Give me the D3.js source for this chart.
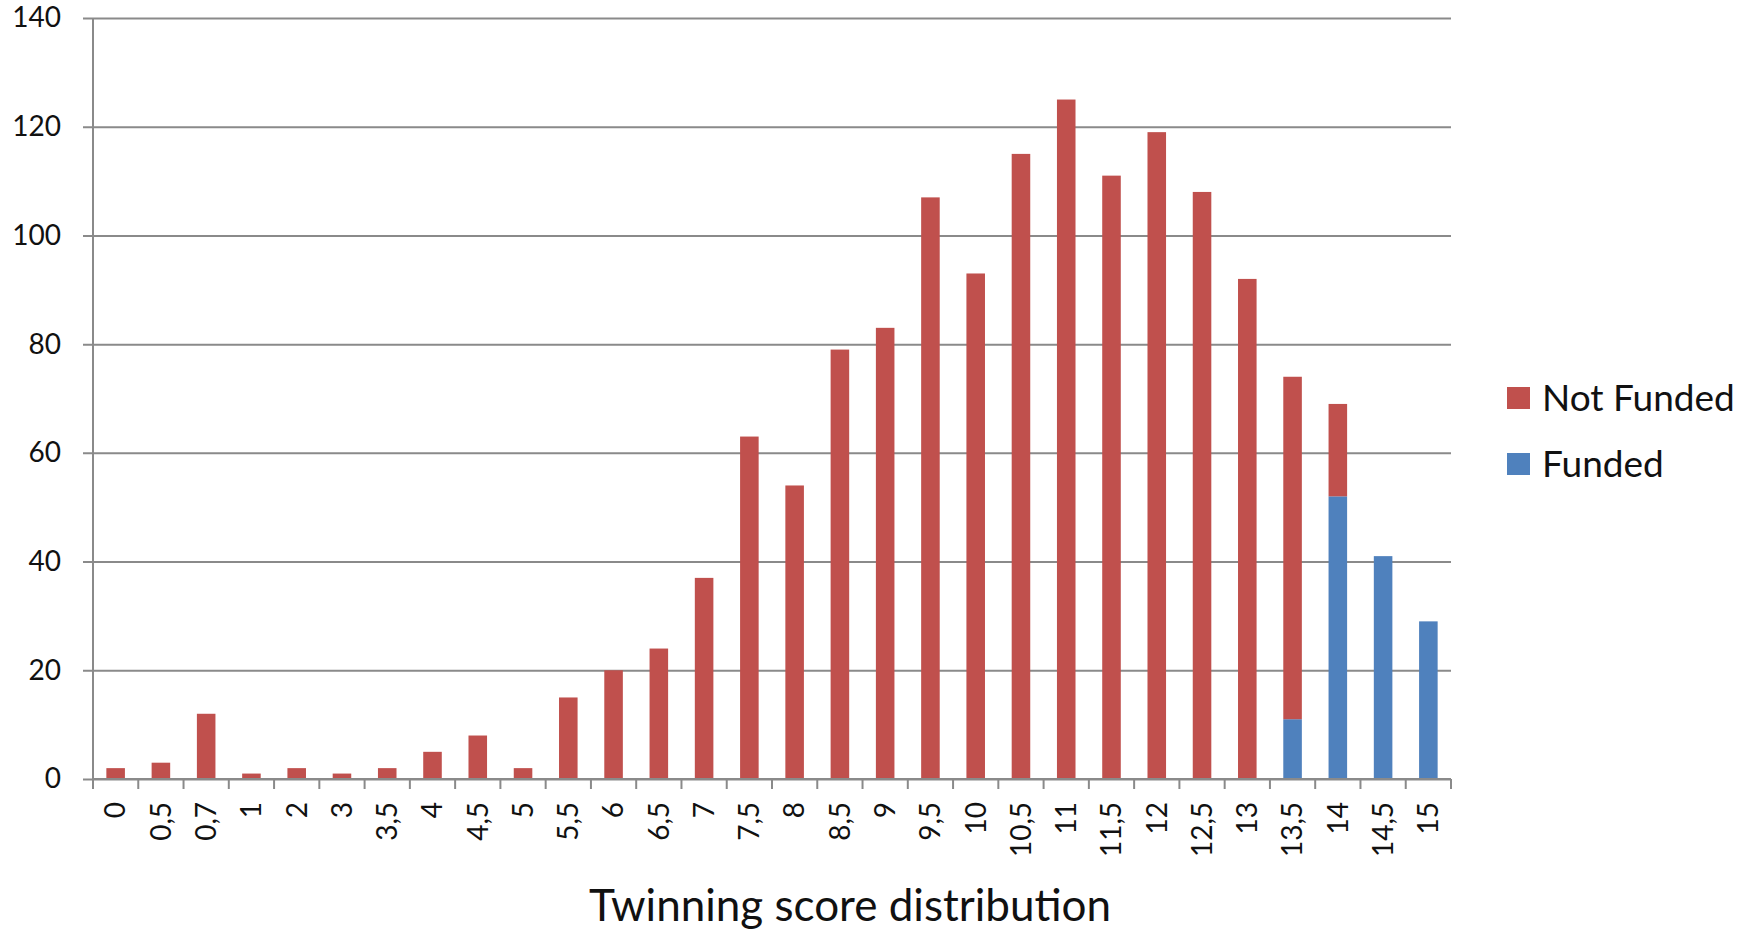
<!DOCTYPE html>
<html>
<head>
<meta charset="utf-8">
<script src="https://cdn.jsdelivr.net/npm/d3@7"></script>
<style>
  body { margin: 0; background: #fff; }
  text { font-family: Lato, "Open Sans", sans-serif; fill: #111; }
</style>
</head>
<body>
<script>
/*---------------------------
 DATA
---------------------------*/
var categories = ["0", "0,5", "0,7", "1", "2", "3", "3,5", "4", "4,5", "5",
                  "5,5", "6", "6,5", "7", "7,5", "8", "8,5", "9", "9,5", "10",
                  "10,5", "11", "11,5", "12", "12,5", "13", "13,5", "14", "14,5", "15"];

var funded    = [0, 0, 0, 0, 0, 0, 0, 0, 0, 0,
                 0, 0, 0, 0, 0, 0, 0, 0, 0, 0,
                 0, 0, 0, 0, 0, 0, 11, 52, 41, 29];

var notFunded = [2, 3, 12, 1, 2, 1, 2, 5, 8, 2,
                 15, 20, 24, 37, 63, 54, 79, 83, 107, 93,
                 115, 125, 111, 119, 108, 92, 63, 17, 0, 0];

var yTicks = [0, 20, 40, 60, 80, 100, 120, 140];

var seriesNames  = ["Funded", "Not Funded"];   // stacking order, bottom first
var seriesColors = { "Funded": "#4F81BD", "Not Funded": "#C0504D" };

/*---------------------------
 SVG + SCALES
---------------------------*/
var width = 1754, height = 931;
// note: "top" is taken by window.top, so plot edges get their own names
var plotLeft = 93, plotRight = 1451, plotTop = 18, plotBottom = 779;

var svg = d3.select("body")
            .append("svg")
            .attr("width", width)
            .attr("height", height);

var x = d3.scaleBand()
          .domain(categories)
          .range([plotLeft, plotRight])
          .paddingInner(0.59)
          .paddingOuter(0.295);

var y = d3.scaleLinear()
          .domain([0, 140])
          .range([plotBottom, plotTop]);

// rows for d3.stack
var rows = categories.map(function(c, i) {
  return { cat: c, "Funded": funded[i], "Not Funded": notFunded[i] };
});

var stacked = d3.stack().keys(seriesNames)(rows);

/*---------------------------
 GRIDLINES + Y AXIS
---------------------------*/
var yAxis = svg.append("g")
               .attr("transform", "translate(" + plotLeft + ",0)")
               .call(d3.axisLeft(y)
                       .tickValues(yTicks)
                       .tickSize(-(plotRight - plotLeft))
                       .tickPadding(32));

yAxis.select(".domain").remove();
yAxis.selectAll(".tick line")
     .attr("x1", -10)
     .attr("stroke", "#8a8a8a")
     .attr("stroke-width", 2);
yAxis.selectAll(".tick text")
     .style("font-size", "28px")
     .style("font-family", "Lato, sans-serif")
     .attr("fill", "#111");

// vertical axis line
svg.append("line")
   .attr("x1", plotLeft).attr("x2", plotLeft)
   .attr("y1", y(140)).attr("y2", plotBottom + 10)
   .attr("stroke", "#8a8a8a")
   .attr("stroke-width", 2);

/*---------------------------
 BARS
---------------------------*/
svg.append("g")
   .selectAll("g")
   .data(stacked)
   .enter()
   .append("g")
   .attr("fill", function(d) { return seriesColors[d.key]; })
   .selectAll("rect")
   .data(function(d) { return d; })
   .enter()
   .append("rect")
   .attr("x", function(d) { return x(d.data.cat); })
   .attr("y", function(d) { return y(d[1]); })
   .attr("width", x.bandwidth())
   .attr("height", function(d) { return y(d[0]) - y(d[1]); });

/*---------------------------
 X AXIS (ticks between categories)
---------------------------*/
svg.append("line")
   .attr("x1", plotLeft).attr("x2", plotRight)
   .attr("y1", plotBottom).attr("y2", plotBottom)
   .attr("stroke", "#8a8a8a")
   .attr("stroke-width", 2);

var step = x.step();
svg.append("g")
   .selectAll("line")
   .data(categories)
   .enter()
   .append("line")
   .attr("x1", function(d) { return x(d) + x.bandwidth() / 2 + step / 2; })
   .attr("x2", function(d) { return x(d) + x.bandwidth() / 2 + step / 2; })
   .attr("y1", plotBottom)
   .attr("y2", plotBottom + 10)
   .attr("stroke", "#8a8a8a")
   .attr("stroke-width", 2);

svg.append("g")
   .selectAll("text")
   .data(categories)
   .enter()
   .append("text")
   .attr("transform", function(d) {
     return "translate(" + (x(d) + x.bandwidth() / 2) + "," + 802 + ") rotate(-90)";
   })
   .attr("dy", "0.35em")
   .attr("text-anchor", "end")
   .style("font-size", "28px")
   .text(function(d) { return d; });

// axis title
svg.append("text")
   .attr("x", 850)
   .attr("y", 921)
   .attr("text-anchor", "middle")
   .style("font-size", "44px")
   .text("Twinning score distribution");

/*---------------------------
 LEGEND
---------------------------*/
var legendItems = ["Not Funded", "Funded"];

var legend = svg.append("g")
                .selectAll("g")
                .data(legendItems)
                .enter()
                .append("g")
                .attr("transform", function(d, i) {
                  return "translate(1507," + (398 + i * 66) + ")";
                });

legend.append("rect")
      .attr("x", 0)
      .attr("y", -11)
      .attr("width", 23)
      .attr("height", 22)
      .attr("fill", function(d) { return seriesColors[d]; });

legend.append("text")
      .attr("x", 35)
      .attr("dy", "0.36em")
      .style("font-size", "37px")
      .text(function(d) { return d; });
</script>
</body>
</html>
